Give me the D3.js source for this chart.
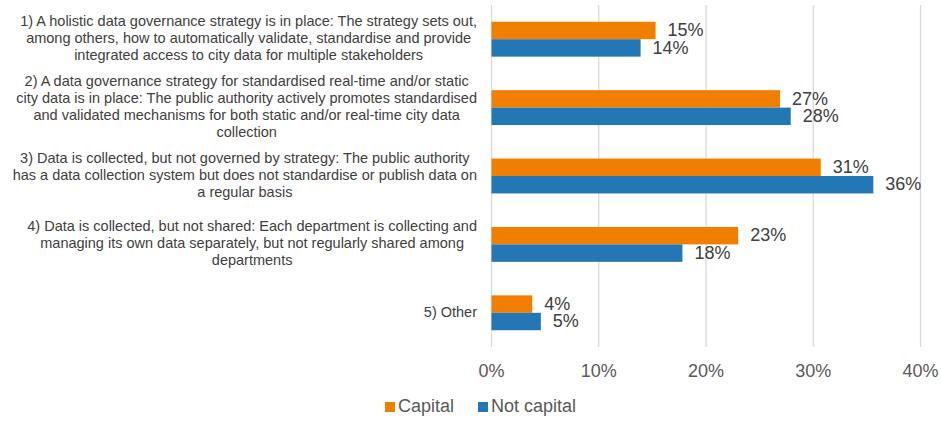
<!DOCTYPE html>
<html>
<head>
<meta charset="utf-8">
<script src="https://cdn.jsdelivr.net/npm/d3@7"></script>
<style>
  body { margin: 0; background: #fff; }
  svg { display: block; font-family: "Liberation Sans", Arial, sans-serif; }
</style>
</head>
<body>
<script>
// category labels, already split into the lines seen on the chart
var categories = [
  ["1) A holistic data governance strategy is in place: The strategy sets out,",
   "among others, how to automatically validate, standardise and provide",
   "integrated access to city data for multiple stakeholders"],
  ["2) A data governance strategy for standardised real-time and/or static",
   "city data is in place: The public authority actively promotes standardised",
   "and validated mechanisms for both static and/or real-time city data",
   "collection"],
  ["3) Data is collected, but not governed by strategy: The public authority",
   "has a data collection system but does not standardise or publish data on",
   "a regular basis"],
  ["4) Data is collected, but not shared: Each department is collecting and",
   "managing its own data separately, but not regularly shared among",
   "departments"],
  ["5) Other"]
]
var seriesNames = ["Capital", "Not capital"]
var capital = [15.3, 26.9, 30.7, 23.0, 3.8]
var notCapital = [13.9, 27.9, 35.6, 17.8, 4.6]
var ticks = [0, 10, 20, 30, 40]

var colors = {"Capital": "#f07f00", "Not capital": "#2277b4"}
var width = 941, height = 423

var svg = d3.select("body").append("svg")
    .attr("width", width)
    .attr("height", height)

var x = d3.scaleLinear().domain([0, 40]).range([491.5, 920.5])
var y = d3.scaleBand().domain(d3.range(categories.length))
    .range([5, 347]).paddingInner(0.49).paddingOuter(0.245)
var ySub = d3.scaleBand().domain(seriesNames).range([0, y.bandwidth()])

// gridlines
svg.append("g").selectAll("line")
    .data(ticks)
    .enter().append("line")
    .attr("x1", function(d){return x(d)})
    .attr("x2", function(d){return x(d)})
    .attr("y1", 5).attr("y2", 347)
    .attr("stroke", "#d9d9d9").attr("stroke-width", 1.3)

// x axis labels
svg.append("g").selectAll("text")
    .data(ticks)
    .enter().append("text")
    .attr("x", function(d){return x(d)})
    .attr("y", 372)
    .attr("text-anchor", "middle")
    .attr("dominant-baseline", "middle")
    .attr("font-size", "18px")
    .attr("fill", "#595959")
    .text(function(d){return d + "%"})

// bars
var rows = categories.map(function(c, i){
  return [{s: "Capital", v: capital[i], i: i}, {s: "Not capital", v: notCapital[i], i: i}]
})
var flat = d3.merge(rows)

svg.append("g").selectAll("rect")
    .data(flat)
    .enter().append("rect")
    .attr("x", x(0))
    .attr("y", function(d){return y(d.i) + ySub(d.s)})
    .attr("width", function(d){return x(d.v) - x(0)})
    .attr("height", ySub.bandwidth())
    .attr("fill", function(d){return colors[d.s]})

// value labels
svg.append("g").selectAll("text")
    .data(flat)
    .enter().append("text")
    .attr("x", function(d){return x(d.v) + 12})
    .attr("y", function(d){return y(d.i) + ySub(d.s) + ySub.bandwidth() / 2 + 1})
    .attr("dominant-baseline", "middle")
    .attr("font-size", "18px")
    .attr("fill", "#404040")
    .text(function(d){return Math.round(d.v) + "%"})

// category labels: each block centred on itself, right-aligned to the axis
var lineH = 17, rightEdge = 477
var catG = svg.append("g")
categories.forEach(function(lines, i){
  var cy = y(i) + y.bandwidth() / 2
  var t = catG.append("text")
      .attr("font-size", "14.5px")
      .attr("fill", "#404040")
      .attr("text-anchor", "middle")
  var spans = t.selectAll("tspan")
      .data(lines)
      .enter().append("tspan")
      .attr("y", function(d, k){return cy + (k - (lines.length - 1) / 2) * lineH})
      .attr("dominant-baseline", "middle")
      .text(function(d){return d})
  var w = d3.max(spans.nodes(), function(n){return n.getComputedTextLength()})
  spans.attr("x", rightEdge - w / 2)
})

// legend
var legendX = [385, 478]
var legend = svg.append("g").selectAll("g")
    .data(seriesNames)
    .enter().append("g")
    .attr("transform", function(d, i){return "translate(" + legendX[i] + ",402)"})
legend.append("rect")
    .attr("width", 10).attr("height", 10)
    .attr("fill", function(d){return colors[d]})
legend.append("text")
    .attr("x", 13).attr("y", 5.5)
    .attr("dominant-baseline", "middle")
    .attr("font-size", "18px")
    .attr("fill", "#595959")
    .text(function(d){return d})
</script>
</body>
</html>
